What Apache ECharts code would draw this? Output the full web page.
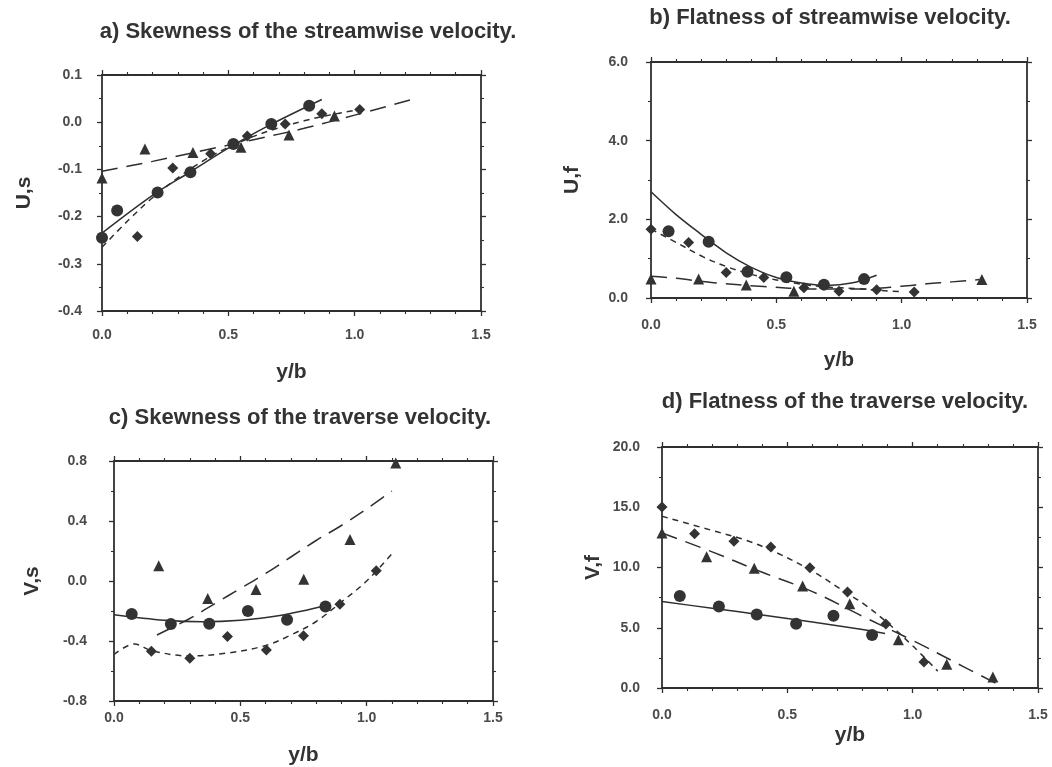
<!DOCTYPE html>
<html>
<head>
<meta charset="utf-8">
<script src="https://cdn.jsdelivr.net/npm/echarts@6/dist/echarts.min.js"></script>
<style>
  html, body { margin: 0; padding: 0; background: #ffffff; }
  #chart { width: 1052px; height: 767px; }
</style>
</head>
<body>
<div id="chart"></div>
<script>
// ---- Panel a: skewness of the streamwise velocity ----
const aCircX = [0.0, 0.06, 0.22, 0.35, 0.52, 0.67, 0.82];
const aCircY = [-0.245, -0.187, -0.149, -0.106, -0.046, -0.004, 0.035];
const aDiamX = [0.14, 0.28, 0.43, 0.575, 0.725, 0.87, 1.02];
const aDiamY = [-0.242, -0.097, -0.067, -0.029, -0.004, 0.018, 0.027];
const aTriX = [0.0, 0.17, 0.36, 0.55, 0.74, 0.92];
const aTriY = [-0.118, -0.057, -0.064, -0.053, -0.027, 0.013];
const aSolidX = [0, 0.2, 0.35, 0.5, 0.65, 0.87];
const aSolidY = [-0.235, -0.155, -0.105, -0.055, -0.01, 0.048];
const aShortX = [0, 0.1, 0.2, 0.3, 0.4, 0.5, 0.6, 0.7, 0.8, 0.9, 1.0];
const aShortY = [-0.265, -0.21, -0.16, -0.118, -0.082, -0.053, -0.03, -0.012, 0.003, 0.015, 0.025];
const aLongX = [0, 0.2, 0.4, 0.6, 0.8, 1.0, 1.24];
const aLongY = [-0.104, -0.083, -0.06, -0.037, -0.013, 0.015, 0.05];

// ---- Panel b: flatness of streamwise velocity ----
const bCircX = [0.07, 0.23, 0.385, 0.54, 0.69, 0.85];
const bCircY = [1.70, 1.43, 0.67, 0.53, 0.34, 0.48];
const bDiamX = [0.0, 0.15, 0.30, 0.45, 0.61, 0.75, 0.90, 1.05];
const bDiamY = [1.75, 1.41, 0.65, 0.52, 0.26, 0.17, 0.21, 0.15];
const bTriX = [0.0, 0.19, 0.38, 0.57, 1.32];
const bTriY = [0.48, 0.48, 0.33, 0.17, 0.47];
const bSolidX = [0, 0.1, 0.2, 0.3, 0.4, 0.5, 0.6, 0.7, 0.8, 0.9];
const bSolidY = [2.70, 2.12, 1.62, 1.15, 0.78, 0.52, 0.38, 0.32, 0.38, 0.58];
const bShortX = [0, 0.11, 0.21, 0.3, 0.4, 0.5, 0.6, 0.7, 0.82, 0.92, 1.0];
const bShortY = [1.75, 1.38, 1.04, 0.8, 0.6, 0.46, 0.35, 0.28, 0.24, 0.19, 0.16];
const bLongX = [0, 0.1, 0.25, 0.45, 0.65, 0.85, 1.0, 1.1, 1.2, 1.31];
const bLongY = [0.55, 0.5, 0.39, 0.29, 0.23, 0.23, 0.3, 0.36, 0.41, 0.47];

// ---- Panel c: skewness of the traverse velocity ----
const cCircX = [0.07, 0.225, 0.377, 0.53, 0.685, 0.837];
const cCircY = [-0.22, -0.287, -0.285, -0.2, -0.258, -0.17];
const cDiamX = [0.148, 0.30, 0.449, 0.603, 0.75, 0.894, 1.038];
const cDiamY = [-0.468, -0.515, -0.37, -0.46, -0.365, -0.155, 0.068];
const cTriX = [0.177, 0.371, 0.562, 0.751, 0.934, 1.115];
const cTriY = [0.101, -0.116, -0.057, 0.011, 0.276, 0.787];
const cSolidX = [0, 0.2, 0.35, 0.5, 0.65, 0.85];
const cSolidY = [-0.225, -0.262, -0.272, -0.262, -0.232, -0.16];
const cShortX = [0, 0.08, 0.15, 0.3, 0.45, 0.6, 0.7, 0.8, 0.9, 1.0, 1.11];
const cShortY = [-0.49, -0.42, -0.465, -0.5, -0.48, -0.43, -0.36, -0.27, -0.14, 0.0, 0.2];
const cLongX = [0.17, 0.3, 0.4, 0.5, 0.6, 0.7, 0.8, 0.9, 1.0, 1.1];
const cLongY = [-0.36, -0.25, -0.15, -0.05, 0.05, 0.16, 0.27, 0.37, 0.48, 0.6];

// ---- Panel d: flatness of the traverse velocity ----
const dCircX = [0.071, 0.227, 0.378, 0.535, 0.684, 0.838];
const dCircY = [7.63, 6.76, 6.09, 5.33, 5.99, 4.40];
const dDiamX = [0.0, 0.13, 0.287, 0.434, 0.59, 0.74, 0.893, 1.045];
const dDiamY = [15.03, 12.8, 12.18, 11.7, 9.98, 7.97, 5.32, 2.15];
const dTriX = [0.0, 0.178, 0.368, 0.561, 0.749, 0.943, 1.136, 1.32];
const dTriY = [12.86, 10.89, 9.93, 8.46, 6.99, 4.0, 1.97, 0.92];
const dSolidX = [0, 0.2, 0.4, 0.6, 0.8, 0.89];
const dSolidY = [7.17, 6.62, 6.06, 5.47, 4.85, 4.52];
const dShortX = [0, 0.22, 0.33, 0.45, 0.6, 0.72, 0.81, 0.9, 1.0, 1.1];
const dShortY = [14.25, 12.96, 12.3, 11.3, 9.7, 8.1, 6.9, 5.4, 3.5, 1.4];
const dLongX = [0, 0.2, 0.4, 0.6, 0.8, 1.0, 1.2, 1.35];
const dLongY = [12.86, 11.3, 9.6, 8.0, 5.95, 3.95, 1.8, 0.2];

// ---- Axis ranges and labels ----
const titles = [
  'a) Skewness of the streamwise velocity.',
  'b) Flatness of streamwise velocity.',
  'c) Skewness of the traverse velocity.',
  'd) Flatness of the traverse velocity.'
];
const yNames = ['U,s', 'U,f', 'V,s', 'V,f'];
const xName = 'y/b';
const yMin = [-0.4, 0, -0.8, 0];
const yMax = [0.1, 6, 0.8, 20];
const yStep = [0.1, 2, 0.4, 5];
const yMinorSplits = [2, 2, 2, 2];
const xMin = 0, xMax = 1.5, xStep = 0.5;

const FONT = '"Liberation Sans", Arial, Helvetica, sans-serif';
const INK = '#2f2f2f';

const zip = (xs, ys) => xs.map((x, i) => [x, ys[i]]);
const fmt1 = v => (Math.abs(v) < 1e-9 ? 0 : v).toFixed(1);

const panels = [
  { circ: zip(aCircX, aCircY), diam: zip(aDiamX, aDiamY), tri: zip(aTriX, aTriY),
    solid: zip(aSolidX, aSolidY), short: zip(aShortX, aShortY), long: zip(aLongX, aLongY) },
  { circ: zip(bCircX, bCircY), diam: zip(bDiamX, bDiamY), tri: zip(bTriX, bTriY),
    solid: zip(bSolidX, bSolidY), short: zip(bShortX, bShortY), long: zip(bLongX, bLongY) },
  { circ: zip(cCircX, cCircY), diam: zip(cDiamX, cDiamY), tri: zip(cTriX, cTriY),
    solid: zip(cSolidX, cSolidY), short: zip(cShortX, cShortY), long: zip(cLongX, cLongY) },
  { circ: zip(dCircX, dCircY), diam: zip(dDiamX, dDiamY), tri: zip(dTriX, dTriY),
    solid: zip(dSolidX, dSolidY), short: zip(dShortX, dShortY), long: zip(dLongX, dLongY) }
];

// Plot frame of each panel
const frames = [
  { left: 102, top: 75, width: 379, height: 236 },
  { left: 651, top: 62, width: 376, height: 236 },
  { left: 114, top: 461, width: 379, height: 240 },
  { left: 662, top: 447, width: 376, height: 241 }
];
const titlePos = [[308, 32], [830, 18], [300, 418], [845, 402]];
const xLabelMargin = [17, 20, 10, 20];
const xNameGap = [51, 52, 44, 37];
const yNameGap = [67, 68, 71, 58];
const yLabelMargin = [20, 23, 27, 22];

const axisLine = { show: true, onZero: false, lineStyle: { color: INK, width: 1.8 } };
const tick = { show: true, inside: false, length: 5, lineStyle: { color: INK, width: 1.3 } };
const labelStyle = { fontFamily: FONT, fontWeight: 'bold', fontSize: 14, color: '#4a4a4a' };
const nameStyle = { fontFamily: FONT, fontWeight: 'bold', fontSize: 21, color: '#333' };

const grid = [], xAxis = [], yAxis = [], series = [], graphic = [];

frames.forEach((f, i) => {
  grid.push({ left: f.left, top: f.top, width: f.width, height: f.height, containLabel: false });

  const xBase = {
    type: 'value', gridIndex: i, min: xMin, max: xMax, interval: xStep,
    axisLine, axisTick: tick, splitLine: { show: false },
    minorTick: { show: true, splitNumber: 5, length: 3, lineStyle: { color: INK, width: 1.1 } }
  };
  xAxis.push(Object.assign({}, xBase, {
    position: 'bottom',
    name: xName, nameLocation: 'middle', nameGap: xNameGap[i],
    nameTextStyle: nameStyle,
    axisLabel: Object.assign({ show: true, margin: xLabelMargin[i], formatter: fmt1 }, labelStyle)
  }));
  xAxis.push(Object.assign({}, xBase, { position: 'top', axisLabel: { show: false } }));

  const yBase = {
    type: 'value', gridIndex: i, min: yMin[i], max: yMax[i], interval: yStep[i],
    axisLine, axisTick: tick, splitLine: { show: false },
    minorTick: { show: true, splitNumber: yMinorSplits[i], length: 3, lineStyle: { color: INK, width: 1.1 } }
  };
  yAxis.push(Object.assign({}, yBase, {
    position: 'left',
    name: yNames[i], nameLocation: 'middle', nameGap: yNameGap[i], nameRotate: 90,
    nameTextStyle: nameStyle,
    axisLabel: Object.assign({ show: true, margin: yLabelMargin[i], formatter: fmt1 }, labelStyle)
  }));
  yAxis.push(Object.assign({}, yBase, { position: 'right', axisLabel: { show: false } }));

  const p = panels[i];
  const xi = 2 * i, yi = 2 * i;
  const lineBase = { type: 'line', xAxisIndex: xi, yAxisIndex: yi, showSymbol: false,
    symbol: 'none', smooth: 0.35, z: 2, silent: true };
  series.push(Object.assign({}, lineBase, { name: 'fit-solid', data: p.solid,
    lineStyle: { color: INK, width: 1.5, type: 'solid' } }));
  series.push(Object.assign({}, lineBase, { name: 'fit-short', data: p.short,
    lineStyle: { color: INK, width: 1.5, type: [6, 5] } }));
  series.push(Object.assign({}, lineBase, { name: 'fit-long', data: p.long,
    lineStyle: { color: INK, width: 1.5, type: [16, 9] } }));

  const scat = { type: 'scatter', xAxisIndex: xi, yAxisIndex: yi, z: 3, silent: true,
    itemStyle: { color: '#333', opacity: 1 } };
  series.push(Object.assign({}, scat, { name: 'circle', data: p.circ, symbol: 'circle', symbolSize: 12 }));
  series.push(Object.assign({}, scat, { name: 'diamond', data: p.diam, symbol: 'diamond', symbolSize: 11 }));
  series.push(Object.assign({}, scat, { name: 'triangle', data: p.tri, symbol: 'triangle', symbolSize: 11 }));

  graphic.push({
    type: 'text', x: titlePos[i][0], y: titlePos[i][1],
    style: { text: titles[i], textAlign: 'center', textVerticalAlign: 'middle',
      font: 'bold 22px ' + FONT, fill: '#333' }
  });
});

const chart = echarts.init(document.getElementById('chart'), null, { renderer: 'canvas' });
chart.setOption({
  backgroundColor: '#ffffff',
  animation: false,
  grid, xAxis, yAxis, series, graphic
});
</script>
</body>
</html>
